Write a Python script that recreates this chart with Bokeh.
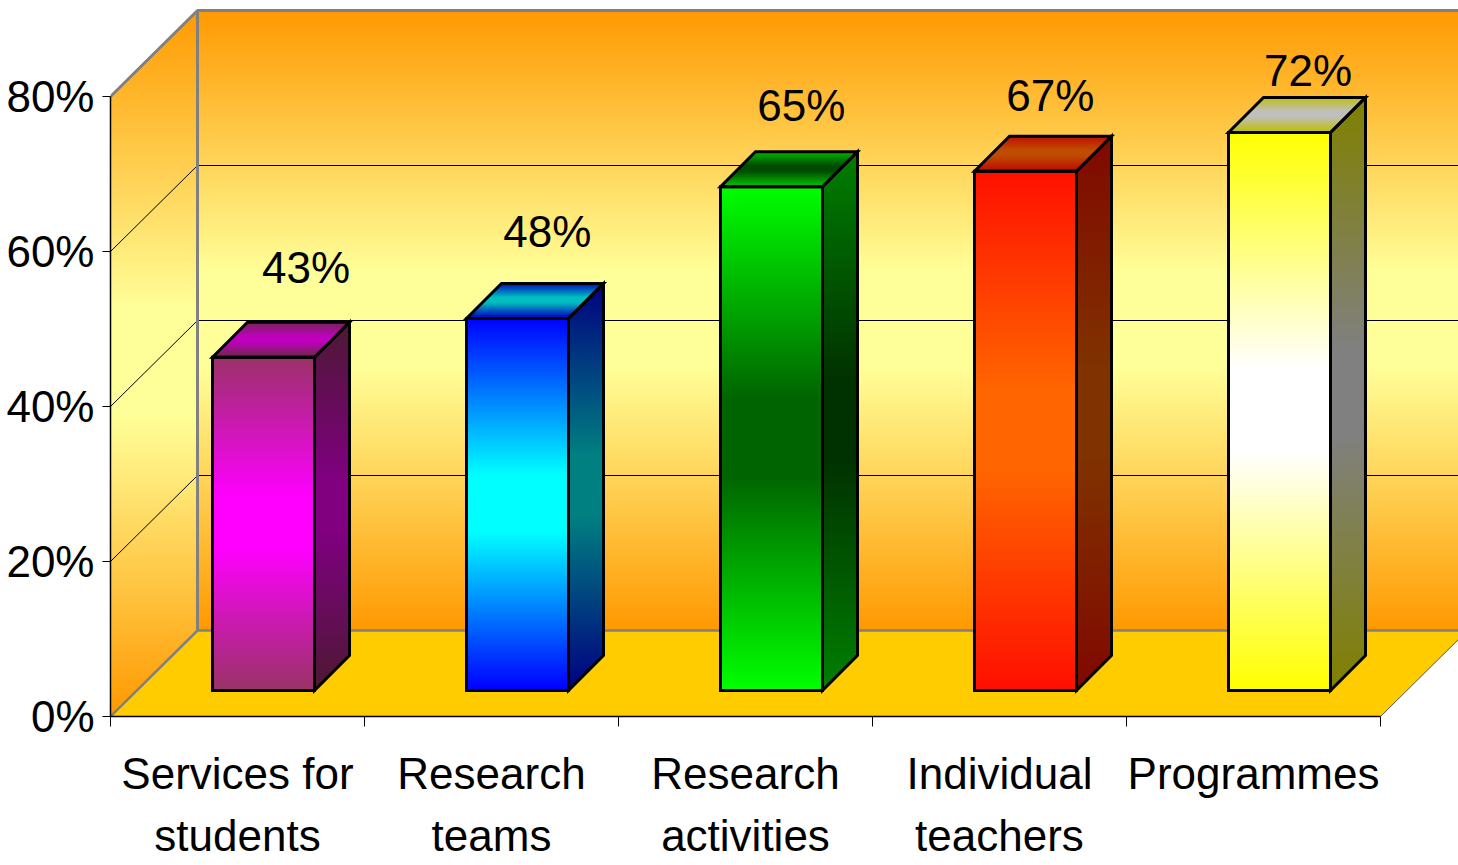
from bokeh.plotting import figure
from bokeh.models import Range1d, LinearAxis, FixedTicker, ColumnDataSource
from bokeh.core.properties import value
from bokeh.embed import file_html
from bokeh.resources import INLINE
import numpy as np

# ---- data ----
first_line = ["Services for", "Research", "Research", "Individual", "Programmes"]
second_line = ["students", "teams", "activities", "teachers", ""]
values = [43, 48, 65, 67, 72]
value_labels = ["43%", "48%", "65%", "67%", "72%"]
y_ticks = [0, 20, 40, 60, 80]
y_tick_labels = ["0%", "20%", "40%", "60%", "80%"]
edge_colors = ["#993366", "#0000FF", "#00FF00", "#FF1000", "#FFFF00"]
mid_colors = ["#FF00FF", "#00FFFF", "#006400", "#FF6600", "#FFFFFF"]

# ---- layout scale ----
PX_X = 254.0          # pixels per category
PX_Y = 7.75           # pixels per percent
FONT = "Liberation Sans"
FS = "44px"
DX, DY = 87 / PX_X, 86 / PX_Y      # wall depth
NEAR_X, NEAR_Y = 26 / PX_X, 26 / PX_Y
BAR_L, BAR_W = 76 / PX_X, 102 / PX_X
BAR_DX, BAR_DY = 35 / PX_X, 35 / PX_Y
STRIP = 2 / PX_Y
PLATEAU = 0.85
FRAME_W, FRAME_H = 1348, 708
label_dx = [0.27, 0.22, 0.22, 0.2, 0.215]
label_dy = [11.6, 11.2, 10.5, 9.8, 8.0]


def rgb(h):
    return np.array([int(h[i:i + 2], 16) for i in (1, 3, 5)], float)


def tohex(c):
    return "#%02x%02x%02x" % tuple(int(round(min(255, max(0, v)))) for v in c)


def clip(poly, y0, y1):
    def half(pts, keep, cross):
        out = []
        for i, a in enumerate(pts):
            b = pts[(i + 1) % len(pts)]
            if keep(a):
                out.append(a)
            if keep(a) != keep(b):
                t = (cross - a[1]) / (b[1] - a[1])
                out.append((a[0] + t * (b[0] - a[0]), cross))
        return out
    pts = half(poly, lambda q: q[1] >= y0, y0)
    if pts:
        pts = half(pts, lambda q: q[1] <= y1, y1)
    return pts


def gradient(p, poly, c_edge, c_mid):
    """Three-stop vertical gradient painted inside a polygon as thin bands."""
    ys = [q[1] for q in poly]
    lo, hi = min(ys), max(ys)
    xs_out, ys_out, cols = [], [], []
    y = hi
    while y > lo:
        y0 = max(lo, y - STRIP)
        pts = clip(poly, y0, min(hi, y + 0.5 * STRIP))
        if len(pts) >= 3:
            u = 1 - abs(((y + y0) / 2 - lo) / (hi - lo) * 2 - 1)
            u = min(1.0, u / PLATEAU)
            xs_out.append([q[0] for q in pts])
            ys_out.append([q[1] for q in pts])
            cols.append(tohex(c_edge + (c_mid - c_edge) * u))
        y = y0
    p.patches(xs_out, ys_out, fill_color=cols, line_color=None)


p = figure(frame_width=FRAME_W, frame_height=FRAME_H, x_range=Range1d(0, FRAME_W / PX_X),
           y_range=Range1d(0, FRAME_H / PX_Y), x_axis_type=None, y_axis_type=None,
           output_backend="svg", toolbar_location=None,
           min_border_left=110, min_border_right=0, min_border_top=8, min_border_bottom=0)
p.grid.visible = False
p.outline_line_color = None

n = len(values)
right = FRAME_W / PX_X
top = y_ticks[-1]

# walls
orange, pale = rgb("#FF9900"), rgb("#FFFF99")
gradient(p, [(0, 0), (DX, DY), (DX, top + DY), (0, top)], orange, pale)
gradient(p, [(DX, DY), (right, DY), (right, top + DY), (DX, top + DY)], orange, pale)
# floor
p.patch([0, n, n + DX, DX], [0, 0, DY, DY], fill_color="#FFCC00", line_color=None)
# gridlines
for t in y_ticks[1:-1]:
    p.line([0, DX, right], [t, t + DY, t + DY], line_color="black", line_width=1)
# wall edges
p.line([0, DX, right], [top, top + DY, top + DY], line_color="#808080", line_width=3)
p.line([DX, DX], [DY, top + DY], line_color="#808080", line_width=3)
p.line([0, DX, right], [0, DY, DY], line_color="#808080", line_width=2.5)
p.line([n, n + DX], [0, DY], line_color="#555555", line_width=1)

# bars
for i, v in enumerate(values):
    xl = i + BAR_L + NEAR_X
    xr = xl + BAR_W
    b = NEAR_Y
    t = b + v
    ce, cm = rgb(edge_colors[i]), rgb(mid_colors[i])
    front = [(xl, b), (xr, b), (xr, t), (xl, t)]
    side = [(xr, b), (xr + BAR_DX, b + BAR_DY), (xr + BAR_DX, t + BAR_DY), (xr, t)]
    roof = [(xl, t), (xr, t), (xr + BAR_DX, t + BAR_DY), (xl + BAR_DX, t + BAR_DY)]
    gradient(p, front, ce, cm)
    gradient(p, side, ce * 0.5, cm * 0.5)
    gradient(p, roof, ce * 0.75, cm * 0.75)
    for poly in (front, side, roof):
        p.patch([q[0] for q in poly], [q[1] for q in poly], fill_color=None,
                line_color="black", line_width=3, line_join="miter")

# value labels
src = ColumnDataSource(dict(
    x=[i + 0.5 + label_dx[i] for i in range(n)],
    y=[values[i] + NEAR_Y + label_dy[i] for i in range(n)],
    t=value_labels))
p.text("x", "y", text="t", source=src, text_font=value(FONT), text_font_size=value(FS),
       text_align="center", text_baseline="alphabetic", text_color="black")

# axes
ya = LinearAxis(ticker=FixedTicker(ticks=y_ticks), bounds=(0, top),
                major_label_overrides=dict(zip(y_ticks, y_tick_labels)))
ya.major_label_text_font = FONT
ya.major_label_text_font_size = FS
ya.major_label_text_color = "black"
ya.major_tick_in = 0
ya.major_tick_out = 8
ya.minor_tick_line_color = None
ya.major_label_standoff = 8
ya.axis_line_width = 1.5
ya.major_tick_line_width = 1
p.add_layout(ya, "left")

xa = LinearAxis(ticker=FixedTicker(ticks=list(range(n + 1))), bounds=(0, n),
                major_label_overrides={i: "" for i in range(n + 1)})
xa.major_tick_in = 0
xa.major_tick_out = 10
xa.minor_tick_line_color = None
xa.axis_line_width = 1.5
xa.major_label_standoff = 0
p.add_layout(xa, "below")

centers = [i + 0.5 for i in range(n)]
for lines, stand in ((first_line, 22), (second_line, 10)):
    ax = LinearAxis(ticker=FixedTicker(ticks=centers),
                    major_label_overrides=dict(zip(centers, lines)))
    ax.axis_line_color = None
    ax.major_tick_line_color = None
    ax.minor_tick_line_color = None
    ax.major_tick_in = 0
    ax.major_tick_out = 0
    ax.major_label_text_font = FONT
    ax.major_label_text_font_size = FS
    ax.major_label_text_color = "black"
    ax.major_label_standoff = stand
    p.add_layout(ax, "below")

open("out.html", "w").write(file_html(p, INLINE))
